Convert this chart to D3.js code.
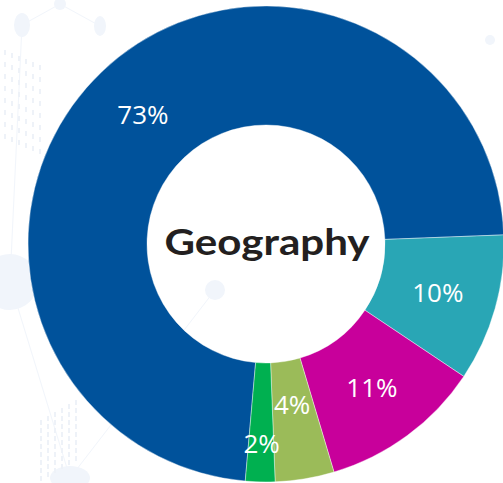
<!DOCTYPE html>
<html><head><meta charset="utf-8">
<script src="https://cdn.jsdelivr.net/npm/d3@7"></script>
<style>html,body{margin:0;padding:0;background:#fff;overflow:hidden}</style>
</head><body>
<svg id="c" width="503" height="483"></svg>
<script>
const categories = ["A", "B", "C", "D", "E"];
const values = [73, 10, 11, 4, 2];
const labels = ["73%", "10%", "11%", "4%", "2%"];
const colors = ["#00529b", "#29a6b5", "#c8009b", "#9bbb59", "#00b050"];
const title = "Geography";
// label nudges (px) for crowded small slices
const labelNudge = [[0,0],[0,0],[0,0],[-3,-15],[0,21]];

const svg = d3.select("#c");
const cx = 266, cy = 244, R = 238, r = 119;

// faint decorative background network
const deco = svg.append("g").attr("fill", "#f1f5fb").attr("stroke", "#f1f5fb");
const nodes = [[22,25,8,12],[60,4,6,6],[100,26,6,10],[10,282,28,28],[70,478,20,12],[215,290,10,10],[490,40,5,5]];
const links = [[0,1],[1,2],[0,3],[3,4],[4,5]];
links.forEach(([a,b]) => deco.append("line").attr("x1",nodes[a][0]).attr("y1",nodes[a][1]).attr("x2",nodes[b][0]).attr("y2",nodes[b][1]).attr("stroke-width",1));
nodes.forEach(n => deco.append("ellipse").attr("cx",n[0]).attr("cy",n[1]).attr("rx",n[2]).attr("ry",n[3]).attr("stroke","none"));
for (let i = 0; i < 6; i++) for (let j = 0; j < 8; j++) {
  deco.append("rect").attr("x", 4 + i*7).attr("y", 50 + j*12 + i*3).attr("width", 2).attr("height", 5).attr("stroke","none").attr("fill","#eef2f8");
  deco.append("rect").attr("x", 40 + i*7).attr("y", 420 + j*8 - i*4).attr("width", 2).attr("height", 5).attr("stroke","none").attr("fill","#eef2f8");
}

const deg = Math.PI / 180;
const start = 185.0 * deg;
const pie = d3.pie().sort(null).value(d => d).startAngle(start).endAngle(start + 2*Math.PI);
const arcs = pie(values);
const arc = d3.arc().innerRadius(r).outerRadius(R);
const g = svg.append("g").attr("transform", `translate(${cx},${cy})`);

g.selectAll("path.s").data(arcs).enter().append("path")
  .attr("class","s")
  .attr("d", arc)
  .attr("fill", (d,i) => colors[i])
  .attr("stroke", "#fff").attr("stroke-width", 0.4);

g.selectAll("text.l").data(arcs).enter().append("text")
  .attr("class","l")
  .attr("transform", (d,i) => { const c = arc.centroid(d); return `translate(${c[0]+labelNudge[i][0]},${c[1]+labelNudge[i][1]})`; })
  .attr("text-anchor","middle").attr("dy","0.36em")
  .attr("fill","#fff")
  .style("font-family","'Open Sans', sans-serif").style("font-size","26px")
  .text((d,i) => labels[i]);

g.append("text").attr("x", 1).attr("y", 11)
  .attr("text-anchor","middle")
  .attr("fill","#231f20")
  .attr("textLength", 205).attr("lengthAdjust","spacingAndGlyphs")
  .style("font-family","Lato, sans-serif").style("font-weight","700").style("font-size","37px")
  .text(title);
</script>
</body></html>
